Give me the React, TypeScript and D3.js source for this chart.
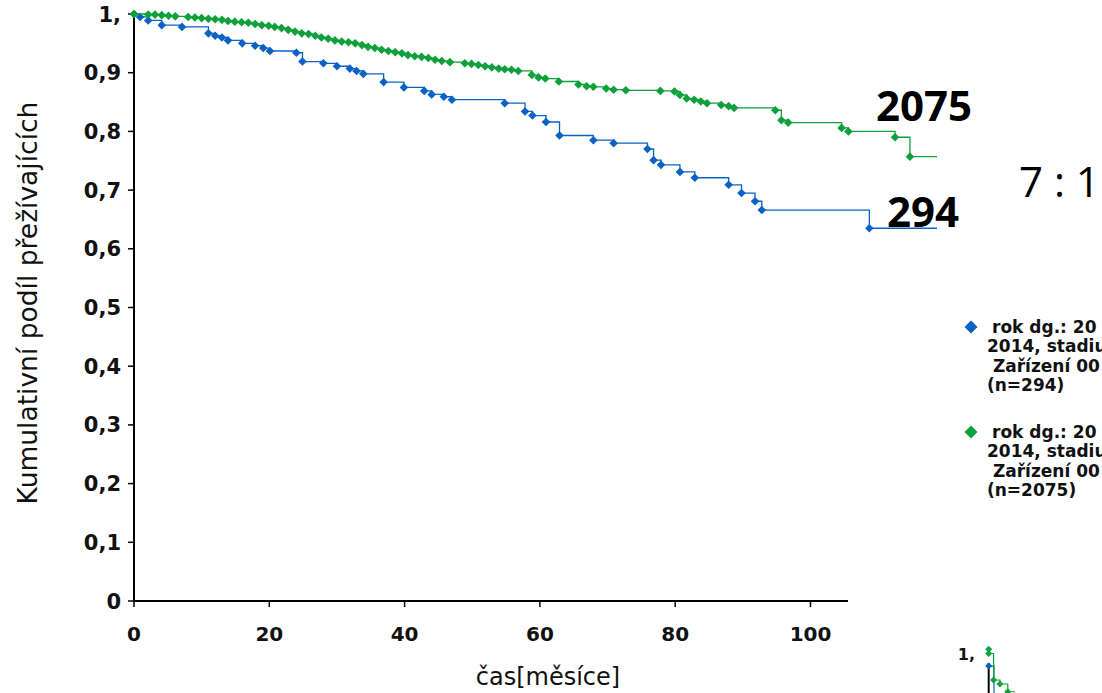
import React from "react";
import * as d3 from "d3";

const xTicks = [0, 20, 40, 60, 80, 100];
const yTicks = [0, 0.1, 0.2, 0.3, 0.4, 0.5, 0.6, 0.7, 0.8, 0.9, 1];
const yTickLabels = ["0", "0,1", "0,2", "0,3", "0,4", "0,5", "0,6", "0,7", "0,8", "0,9", "1,"];

const blueTimes = [0, 0.9, 2.1, 4.1, 7.1, 11.0, 12.0, 13.0, 13.9, 16.0, 17.9, 19.1, 20.1, 24.0, 24.9, 28.0, 30.0, 31.9, 32.9, 33.9, 36.9, 39.9, 42.9, 44.0, 45.8, 47.0, 54.8, 57.8, 58.9, 60.9, 62.9, 67.9, 70.9, 75.9, 76.8, 77.9, 80.7, 82.9, 87.9, 89.8, 91.8, 92.8, 108.7];
const blueSurv = [1, 0.995, 0.989, 0.981, 0.978, 0.967, 0.963, 0.960, 0.955, 0.950, 0.946, 0.942, 0.937, 0.934, 0.919, 0.916, 0.911, 0.907, 0.903, 0.898, 0.884, 0.875, 0.869, 0.863, 0.859, 0.854, 0.848, 0.834, 0.827, 0.816, 0.793, 0.785, 0.780, 0.770, 0.751, 0.743, 0.731, 0.721, 0.709, 0.695, 0.681, 0.666, 0.635];
const blueEnd = 118.7;

const greenTimes = [0, 2.1, 3.1, 4.1, 5.1, 6.1, 8.0, 9.0, 10.0, 11.0, 12.0, 13.0, 13.9, 14.9, 15.9, 16.9, 17.9, 18.9, 19.9, 20.8, 21.8, 22.8, 23.8, 24.8, 25.8, 26.8, 27.7, 28.7, 29.7, 30.7, 31.7, 32.7, 33.7, 34.6, 35.6, 36.6, 37.6, 38.6, 39.6, 40.5, 41.5, 42.5, 43.5, 44.5, 45.5, 46.7, 48.9, 49.9, 50.9, 51.9, 52.9, 53.9, 54.8, 55.8, 56.8, 58.8, 59.8, 60.8, 62.8, 65.7, 66.9, 67.9, 69.8, 70.9, 72.7, 77.8, 79.9, 80.7, 81.7, 82.8, 83.8, 84.7, 86.8, 87.9, 88.7, 94.8, 95.7, 96.7, 104.6, 105.6, 112.5, 114.7];
const greenSurv = [1, 0.999, 0.999, 0.998, 0.997, 0.996, 0.995, 0.994, 0.993, 0.992, 0.991, 0.990, 0.988, 0.987, 0.986, 0.985, 0.983, 0.981, 0.980, 0.978, 0.976, 0.973, 0.970, 0.967, 0.966, 0.963, 0.960, 0.958, 0.955, 0.953, 0.952, 0.950, 0.947, 0.944, 0.942, 0.939, 0.937, 0.935, 0.933, 0.930, 0.928, 0.927, 0.925, 0.922, 0.920, 0.918, 0.916, 0.915, 0.913, 0.911, 0.909, 0.907, 0.906, 0.905, 0.903, 0.896, 0.892, 0.890, 0.885, 0.880, 0.877, 0.876, 0.873, 0.871, 0.870, 0.869, 0.868, 0.862, 0.856, 0.854, 0.851, 0.848, 0.845, 0.843, 0.840, 0.836, 0.819, 0.815, 0.806, 0.800, 0.790, 0.757];
const greenEnd = 118.7;

// legend lines as far as they are visible in the reference (cut at the page edge)
const legendBlue = ["rok dg.: 20", "2014, stadiu", " Zařízení 00", "(n=294)"];
const legendGreen = ["rok dg.: 20", "2014, stadiu", " Zařízení 00", "(n=2075)"];

// small cut-off chart at the bottom right
const insetGreenTimes = [0, 0, 4.6, 10.6, 18];
const insetGreenSurv = [1.002, 0.997, 0.9655, 0.9607, 0.9515];
const insetBlueTimes = [0, 5];
const insetBlueSurv = [0.982, 0.9];

const BLUE = "#0a62c4";
const GREEN = "#0ea03a";

const x = d3.scaleLinear().domain([0, 100]).range([134, 810.5]);
const y = d3.scaleLinear().domain([0, 1]).range([601, 14]);

const ix = d3.scaleLinear().domain([0, 10]).range([988.7, 999.3]);
const iy = d3.scaleLinear().domain([0.95, 1]).range([693, 651]);

function stepPath(times: number[], surv: number[], end: number, sx: any, sy: any) {
  const pts: [number, number][] = times.map((t, i) => [t, surv[i]]);
  pts.push([end, surv[surv.length - 1]]);
  return d3
    .line<[number, number]>()
    .x((d) => sx(d[0]))
    .y((d) => sy(d[1]))
    .curve(d3.curveStepAfter)(pts) as string;
}

const diamond = (cx: number, cy: number, r: number) =>
  `M${cx},${cy - r}L${cx + r},${cy}L${cx},${cy + r}L${cx - r},${cy}Z`;

export default function App() {
  const bluePath = stepPath(blueTimes, blueSurv, blueEnd, x, y);
  const greenPath = stepPath(greenTimes, greenSurv, greenEnd, x, y);
  const font = "'DejaVu Sans', Verdana, sans-serif";
  return (
    <svg
      width={1102}
      height={693}
      style={{ position: "absolute", left: 0, top: 0, background: "#fff" }}
      fontFamily={font}
    >
      <rect width={1102} height={693} fill="#fff" />
      {/* y axis */}
      <line x1={134} x2={134} y1={y(1)} y2={y(0)} stroke="#000" strokeWidth={2} />
      {yTicks.map((t, i) => (
        <g key={"yt" + i}>
          <line x1={128} x2={134} y1={y(t)} y2={y(t)} stroke="#000" strokeWidth={1.5} />
          <text x={121} y={y(t)} dy="0.36em" textAnchor="end" fontWeight="bold" fontSize={21} fill="#111">
            {yTickLabels[i]}
          </text>
        </g>
      ))}
      {/* x axis */}
      <line x1={134} x2={848} y1={y(0)} y2={y(0)} stroke="#000" strokeWidth={2} />
      {xTicks.map((t) => (
        <g key={"xt" + t}>
          <line x1={x(t)} x2={x(t)} y1={y(0)} y2={y(0) + 6} stroke="#000" strokeWidth={1.5} />
          <text x={x(t)} y={641} textAnchor="middle" fontWeight="bold" fontSize={20} fill="#111">
            {t}
          </text>
        </g>
      ))}
      <text x={548} y={685} textAnchor="middle" fontSize={24} fill="#111">
        čas[měsíce]
      </text>
      <text
        transform="translate(37,303) rotate(-90)"
        textAnchor="middle"
        fontSize={26.5}
        fill="#111"
      >
        Kumulativní podíl přežívajících
      </text>

      {/* curves */}
      <path d={bluePath} fill="none" stroke={BLUE} strokeWidth={1.3} />
      {blueTimes.map((t, i) => (
        <path key={"bm" + i} d={diamond(x(t), y(blueSurv[i]), 4.3)} fill={BLUE} />
      ))}
      <path d={greenPath} fill="none" stroke={GREEN} strokeWidth={1.3} />
      {greenTimes.map((t, i) => (
        <path key={"gm" + i} d={diamond(x(t), y(greenSurv[i]), 4.3)} fill={GREEN} />
      ))}

      {/* annotations */}
      <text x={876} y={121} fontFamily="'Open Sans', sans-serif" fontWeight="bold" fontSize={42} fill="#000">
        2075
      </text>
      <text x={887} y={227} fontFamily="'Open Sans', sans-serif" fontWeight="bold" fontSize={42} fill="#000">
        294
      </text>
      <text x={1019} y={197} fontFamily="'Open Sans', sans-serif" fontSize={42} fill="#000">
        7 : 1
      </text>

      {/* legend */}
      <path d={diamond(971, 327, 6.5)} fill={BLUE} />
      {legendBlue.map((s, i) => (
        <text key={"lb" + i} x={i === 0 ? 992 : 987} y={333 + i * 19.4} fontWeight="bold" fontSize={17} fill="#111" style={{ whiteSpace: "pre" }}>
          {s}
        </text>
      ))}
      <path d={diamond(971, 432, 6.5)} fill={GREEN} />
      {legendGreen.map((s, i) => (
        <text key={"lg" + i} x={i === 0 ? 992 : 987} y={438 + i * 19.4} fontWeight="bold" fontSize={17} fill="#111" style={{ whiteSpace: "pre" }}>
          {s}
        </text>
      ))}

      {/* cut-off second chart */}
      <text x={975} y={660} textAnchor="end" fontWeight="bold" fontSize={16} fill="#111">
        1,
      </text>
      <line x1={988.7} x2={988.7} y1={663} y2={693} stroke="#000" strokeWidth={2} />
      <path d={stepPath(insetBlueTimes, insetBlueSurv, 10, ix, iy)} fill="none" stroke={BLUE} strokeWidth={1.2} />
      <path d={diamond(ix(insetBlueTimes[0]), iy(insetBlueSurv[0]), 3.5)} fill={BLUE} />
      <path d={stepPath(insetGreenTimes, insetGreenSurv, 25, ix, iy)} fill="none" stroke={GREEN} strokeWidth={1.2} />
      {insetGreenTimes.map((t, i) => (
        <path key={"ig" + i} d={diamond(ix(t), iy(insetGreenSurv[i]), 3.5)} fill={GREEN} />
      ))}
    </svg>
  );
}
